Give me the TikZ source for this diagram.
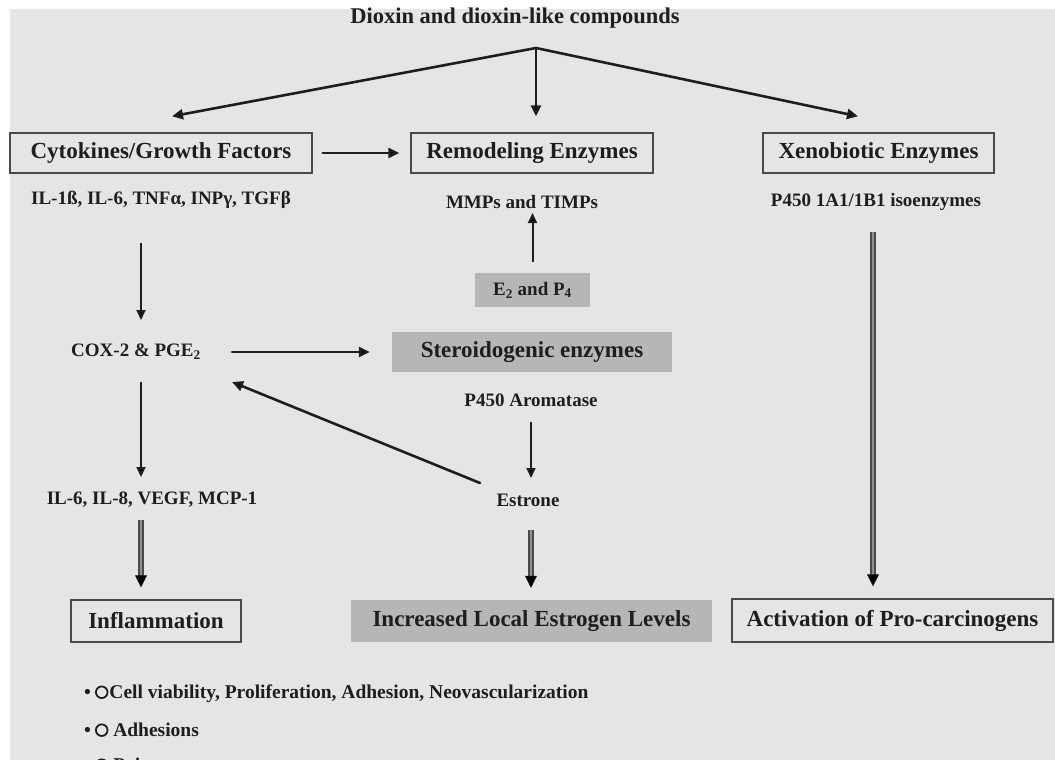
\documentclass[tikz,border=0pt]{standalone}
\usepackage{fontspec}
\setmainfont{Liberation Serif}
\usetikzlibrary{arrows.meta,calc}
\definecolor{bg}{HTML}{E5E5E5}
\definecolor{boxfill}{HTML}{B6B6B6}
\definecolor{ink}{HTML}{1E1E1E}
\definecolor{frame}{HTML}{4A4A4A}
\definecolor{dblmid}{HTML}{8E8E8E}
\newcommand{\ringmark}{\tikz[baseline=-6.5pt]\draw[ink, line width=1.8pt] (0pt,0pt) circle[radius=5.8pt];}
\begin{document}
\begin{tikzpicture}[x=1pt,y=-1pt,
  every node/.style={text=ink, inner sep=0pt},
  titletext/.style={font=\fontsize{22.5}{26}\selectfont\bfseries},
  labelbox/.style={draw=frame, line width=1.4pt, minimum height=40pt, font=\fontsize{23}{26}\selectfont\bfseries},
  graybox/.style={fill=boxfill, minimum height=40pt, font=\fontsize{23}{26}\selectfont\bfseries},
  subtext/.style={font=\fontsize{19}{22}\selectfont\bfseries},
  bullettext/.style={font=\fontsize{19.5}{22}\selectfont\bfseries, anchor=west},
  bigarrow/.style={draw=ink, line width=2.6pt, line cap=round, -{Triangle[length=11pt,width=10pt]}},
  thinarrow/.style={draw=ink, line width=2pt, -{Triangle[length=10pt,width=9pt]}},
  dblshaft/.style={draw=frame, line width=6pt, postaction={draw=dblmid, line width=2.8pt}},
  dbltip/.style={draw=ink, line width=0.5pt, -{Triangle[length=12pt,width=12pt]}}
]
\useasboundingbox (0,0) rectangle (1055,760);
\clip (0,0) rectangle (1055,760);
\fill[bg] (10,9) rectangle (1055,760);

% title and the three top arrows
\node[titletext] (title) at (515,18) {Dioxin and dioxin-like compounds};
\coordinate (apex) at (536,48);

% top row of boxes
\node[labelbox, minimum width=302pt] (cyt) at (161,153) {Cytokines/Growth Factors};
\node[labelbox, minimum width=242pt] (rem) at (532,153) {Remodeling Enzymes};
\node[labelbox, minimum width=231pt] (xen) at (878.5,153) {Xenobiotic Enzymes};

\node[subtext] (il1) at (161,200) {IL-1ß, IL-6, TNFα, INPγ, TGFβ};
\node[subtext] (mmp) at (522,202) {MMPs and TIMPs};
\node[subtext] (p4501) at (876,202) {P450 1A1/1B1 isoenzymes};

\node[graybox, minimum width=115pt, minimum height=34pt, subtext] (e2) at (532.5,290) {E\textsubscript{2} and P\textsubscript{4}};

\node[subtext] (cox) at (136,352) {COX-2 \& PGE\textsubscript{2}};
\node[graybox, minimum width=280pt] (ster) at (532,352) {Steroidogenic enzymes};
\node[subtext] (arom) at (531,400) {P450 Aromatase};

\node[subtext] (il6) at (152,500) {IL-6, IL-8, VEGF, MCP-1};
\node[subtext] (estrone) at (528,500) {Estrone};

% bottom row of boxes
\node[labelbox, minimum width=170pt, minimum height=42pt] (infl) at (156,621) {Inflammation};
\node[graybox, minimum width=361pt, minimum height=42pt] (incr) at (531.5,621) {Increased Local Estrogen Levels};
\node[labelbox, minimum width=321pt, minimum height=43pt] (act) at (892.5,620.5) {Activation of Pro-carcinogens};

% bullets
\node[bullettext] (b1) at (84,694) {•\hspace{4pt}\ringmark\hspace{1pt}Cell viability, Proliferation, Adhesion, Neovascularization};
\node[bullettext] (b2) at (84,730) {•\hspace{4pt}\ringmark\ Adhesions};
\node[bullettext] (b3) at (84,765) {•\hspace{4pt}\ringmark\ Pain};

% connectors
\draw[bigarrow] (apex) -- ($(cyt.north)+(11,-16)$);
\draw[bigarrow] (apex) -- ($(rem.north)+(4,-16)$);
\draw[bigarrow] (apex) -- ($(xen.north)+(-20.5,-16)$);

\draw[bigarrow] ($(cyt.east)+(10,0)$) -- ($(rem.west)+(-11,0)$);
\draw[thinarrow] ($(e2.north)+(0,-11)$) -- ($(mmp)+(10.5,11)$);
\draw[thinarrow] ($(il1)+(-20,43)$) -- ($(cox)+(5,-32)$);
\draw[bigarrow] ($(cox)+(96,0)$) -- ($(ster.west)+(-22,0)$);
\draw[thinarrow] ($(cox)+(5,30)$) -- ($(il6)+(-11,-23)$);
\draw[thinarrow] ($(arom)+(0,22)$) -- ($(estrone)+(3,-22)$);
\draw[bigarrow] ($(estrone)+(-48,-17)$) -- ($(cox)+(96,30)$);

% double-shafted arrows
\draw[dblshaft] ($(il6)+(-11,20)$) -- ($(infl.north)+(-15,-21)$);
\draw[dbltip] ($(infl.north)+(-15,-24)$) -- ($(infl.north)+(-15,-12)$);
\draw[dblshaft] ($(estrone)+(3,30)$) -- ($(incr.north)+(-0.5,-21)$);
\draw[dbltip] ($(incr.north)+(-0.5,-24)$) -- ($(incr.north)+(-0.5,-12)$);
\draw[dblshaft] ($(p4501)+(-3,30)$) -- ($(act.north)+(-19.5,-21)$);
\draw[dbltip] ($(act.north)+(-19.5,-24)$) -- ($(act.north)+(-19.5,-12)$);
\end{tikzpicture}
\end{document}
